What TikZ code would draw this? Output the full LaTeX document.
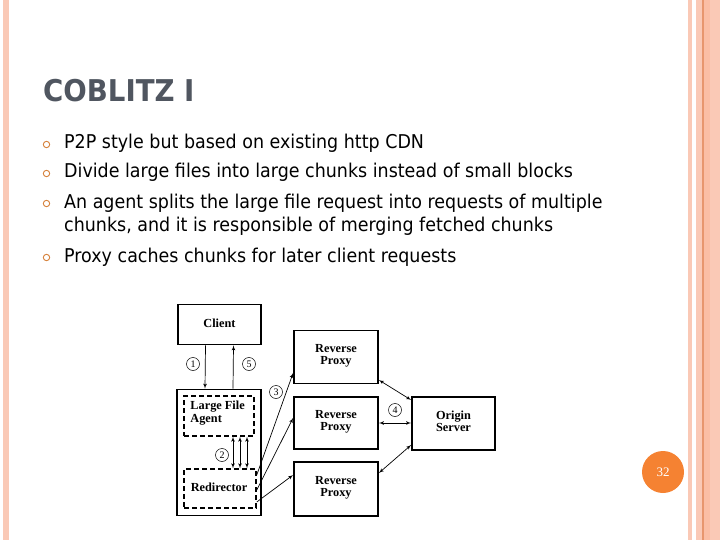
\documentclass[tikz,border=0pt]{standalone}
\usepackage{fontspec}
\setmainfont{DejaVu Sans}[FakeStretch=0.92]
\newfontfamily\figfont{Liberation Serif}
\usetikzlibrary{arrows}
\usetikzlibrary{calc}

\definecolor{stripe}{RGB}{250,201,182}
\definecolor{stripedark}{RGB}{232,150,110}
\definecolor{stripepeach}{RGB}{251,190,165}
\definecolor{titlegray}{RGB}{80,86,96}
\definecolor{bulletorange}{RGB}{214,130,60}
\definecolor{pageorange}{RGB}{245,130,50}

\tikzset{
  figbox/.style={draw, line width=1.8pt, minimum width=#1},
  dashbox/.style={draw, line width=1.5pt, dash pattern=on 5pt off 3pt},
  figtext/.style={font=\figfont\bfseries\fontsize{12.3}{12.3}\selectfont, align=center},
  step label/.style={circle, draw, line width=0.5pt, inner sep=0pt, minimum size=13pt,
    font=\figfont\fontsize{10}{10}\selectfont},
  link/.style={line width=0.7pt},
  bullet text/.style={anchor=base west, inner sep=0pt, font=\fontsize{19}{19}\selectfont},
}

\begin{document}
\begin{tikzpicture}[x=1pt, y=-1pt, >=latex']
      \useasboundingbox (0,0) rectangle (720,540);

      % slide borders
      \fill[stripe] (3,0) rectangle (9,540);
      \fill[stripe] (688,0) rectangle (692,540);
      \fill[stripe] (696,0) rectangle (702,540);
      \fill[stripedark] (702,0) rectangle (703.5,540);
      \fill[stripepeach] (703.5,0) rectangle (710,540);
      \fill[stripe] (710,0) rectangle (720,540);

      \node at (43,102) [anchor=base west, inner sep=0pt, text=titlegray,
      font=\bfseries\fontsize{30}{30}\selectfont, name=title] {COBLITZ I};

      % bullet list
      \foreach \y/\txt [count=\i] in {149/P2P style but based on existing http CDN,
        178/Divide large files into large chunks instead of small blocks,
        208/An agent splits the large file request into requests of multiple,
        262/Proxy caches chunks for later client requests} {
        \draw[bulletorange, line width=0.9pt] (46.5,\y-4.5) circle (3.2);
        \node at (64,\y) [bullet text, name=item\i] {\txt};
      }
      \node at (64,232) [bullet text, name=item3b]
      {chunks, and it is responsible of merging fetched chunks};

      % diagram
      \node at (219.5,324.5)
      [figbox=83pt, minimum height=40pt, name=client] {};
      \node at ($(client)+(0,-1)$) [figtext] {Client};

      \node at (219,452.5)
      [figbox=84pt, minimum height=126pt, name=agent] {};

      \node at (219,416)
      [dashbox, minimum width=70pt, minimum height=40pt, name=lfa] {};
      \node at ($(lfa.north west)+(7,6)$) [figtext, anchor=north west, align=left,
      inner sep=0pt] {Large File\\Agent};

      \node at (220,488.5)
      [dashbox, minimum width=72pt, minimum height=39pt, name=redir] {};
      \node at ($(redir)+(-1,-1)$) [figtext] {Redirector};

      \node at (336,357)
      [figbox=84pt, minimum height=53pt, name=rp1] {};
      \node at ($(rp1)+(0,-1)$) [figtext] {Reverse\\Proxy};

      \node at (336,423)
      [figbox=84pt, minimum height=52pt, name=rp2] {};
      \node at ($(rp2)+(0,-1)$) [figtext] {Reverse\\Proxy};

      \node at (336,489)
      [figbox=84pt, minimum height=54pt, name=rp3] {};
      \node at ($(rp3)+(0,-1)$) [figtext] {Reverse\\Proxy};

      \node at (453.5,423.5)
      [figbox=83pt, minimum height=53pt, name=origin] {};
      \node at ($(origin)+(0,-2)$) [figtext] {Origin\\Server};

      % client <-> agent
      \draw [link, ->] ([xshift=-14pt]client.south) -- ([xshift=-14pt]agent.north);
      \draw [link, ->] ([xshift=14pt]agent.north) -- ([xshift=14pt]client.south);
      \node at (193,364) [step label] {1};
      \node at (249,364) [step label] {5};

      % agent <-> redirector
      \foreach \dx in {14,21,28} {
        \draw [link, <->] ([xshift=\dx pt]lfa.south) -- ([xshift=\dx pt]lfa.south |- redir.north);
      }
      \node at (222,455) [step label] {2};

      % redirector -> proxies
      \draw [link, ->] ([yshift=13.5pt]redir.east) -- ([yshift=-16pt]rp1.west);
      \draw [link, ->] ([yshift=-1.5pt]redir.east) -- ([yshift=5pt]rp2.west);
      \draw [link, ->] ([yshift=-13.5pt]redir.east) -- ([yshift=14pt]rp3.west);
      \node at (276,392) [step label] {3};

      % proxies <-> origin
      \draw [link, <->] ([yshift=-23pt]rp1.east) -- ([yshift=23.5pt]origin.west);
      \draw [link, <->] (rp2.east) -- (rp2.east -| origin.west);
      \draw [link, <->] ([yshift=16pt]rp3.east) -- ([yshift=-21.5pt]origin.west);
      \node at (395,410) [step label] {4};

      % page number
      \node at (663,472) [circle, fill=pageorange, minimum size=42pt, inner sep=0pt,
      text=white, font=\figfont\fontsize{13}{13}\selectfont, name=page] {32};
    \end{tikzpicture}
\end{document}
